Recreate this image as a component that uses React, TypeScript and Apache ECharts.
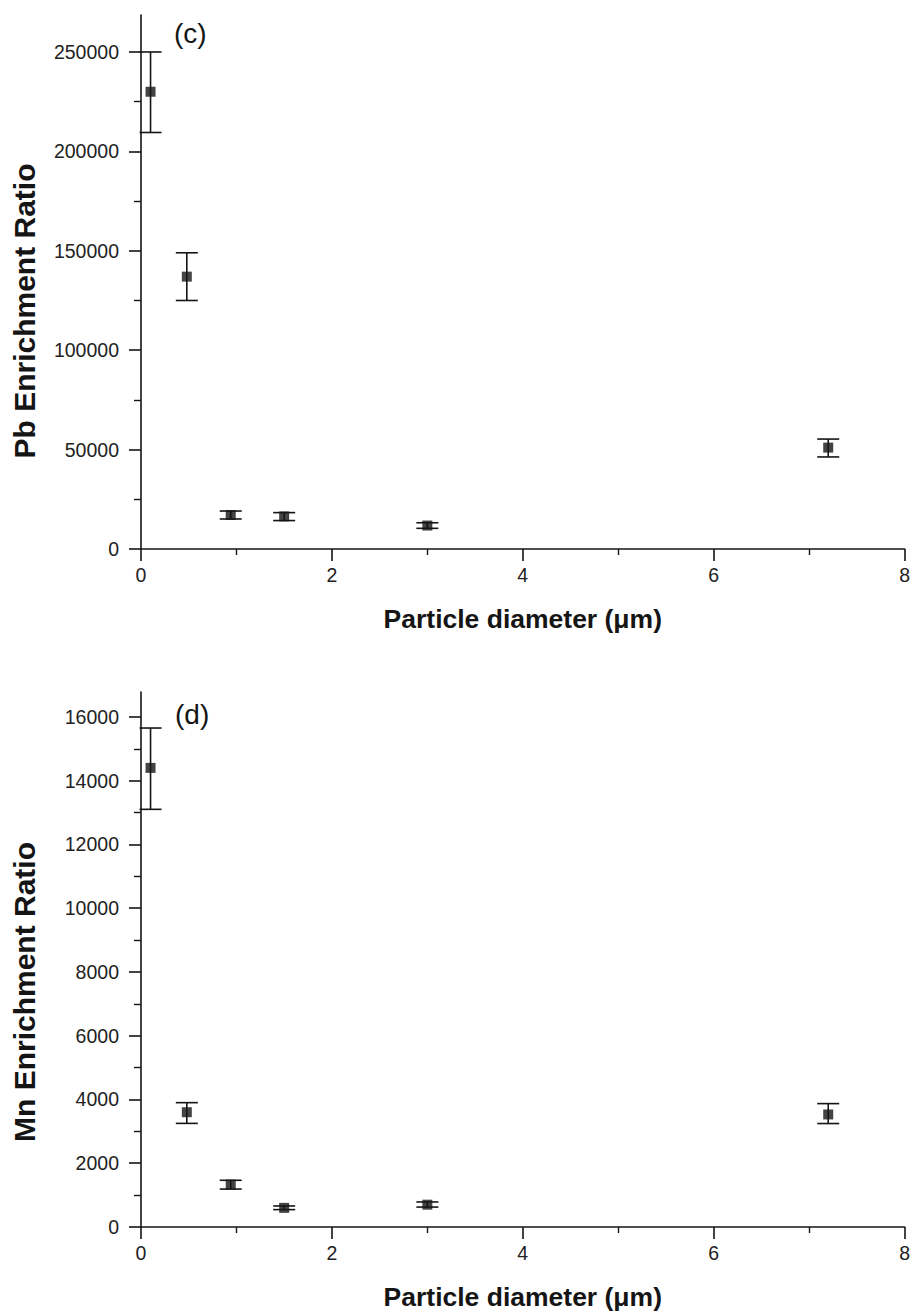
import React, { useEffect, useRef } from "react";
import * as echarts from "echarts";

const diameters = [0.1, 0.48, 0.94, 1.5, 3.0, 7.2];

const pbValues = [230000, 137000, 17100, 16400, 11800, 51000];
const pbLow = [209500, 125000, 15100, 14300, 10400, 46300];
const pbHigh = [250000, 149000, 19100, 18300, 13200, 55300];

const mnValues = [14400, 3600, 1330, 600, 700, 3530];
const mnLow = [13100, 3250, 1190, 545, 625, 3245];
const mnHigh = [15650, 3900, 1465, 660, 785, 3870];

const xTicks = [0, 2, 4, 6, 8];
const pbMajorTicks = [0, 50000, 100000, 150000, 200000, 250000];
const pbMinorTicks = [25000, 75000, 125000, 175000, 225000];
const mnMajorTicks = [0, 2000, 4000, 6000, 8000, 10000, 12000, 14000, 16000];
const mnMinorTicks = [1000, 3000, 5000, 7000, 9000, 11000, 13000, 15000];

const FONT = "'Liberation Sans', Arial, sans-serif";
const INK = "#151515";

function errorSeries(lows: number[], highs: number[], axisIndex: number) {
  return {
    type: "custom",
    xAxisIndex: axisIndex,
    yAxisIndex: axisIndex,
    z: 3,
    data: diameters.map((x, i) => [x, lows[i], highs[i]]),
    encode: { x: 0, y: [1, 2] },
    renderItem: (_params: any, api: any) => {
      const x = api.value(0);
      const top = api.coord([x, api.value(2)]);
      const bot = api.coord([x, api.value(1)]);
      const hw = 11;
      const style = { stroke: INK, lineWidth: 1.6 };
      return {
        type: "group",
        children: [
          { type: "line", shape: { x1: top[0], y1: top[1], x2: bot[0], y2: bot[1] }, style },
          { type: "line", shape: { x1: top[0] - hw, y1: top[1], x2: top[0] + hw, y2: top[1] }, style },
          { type: "line", shape: { x1: bot[0] - hw, y1: bot[1], x2: bot[0] + hw, y2: bot[1] }, style },
        ],
      };
    },
  };
}

function pointSeries(values: number[], axisIndex: number) {
  return {
    type: "scatter",
    xAxisIndex: axisIndex,
    yAxisIndex: axisIndex,
    z: 4,
    symbol: "rect",
    symbolSize: 10,
    itemStyle: { color: INK },
    data: diameters.map((x, i) => [x, values[i]]),
  };
}

function xAxis(gridIndex: number) {
  return {
    type: "value",
    gridIndex,
    min: 0,
    max: 8,
    interval: 2,
    name: "Particle diameter (\u03bcm)",
    nameLocation: "middle",
    nameGap: 56,
    nameTextStyle: { fontFamily: FONT, fontSize: 26.5, fontWeight: "bold", color: INK },
    axisLine: { show: true, onZero: false, lineStyle: { color: INK, width: 1.6 } },
    axisTick: { show: true, length: 12, lineStyle: { color: INK, width: 1.6 }, customValues: xTicks },
    minorTick: { show: true, splitNumber: 2, length: 6, lineStyle: { color: INK, width: 1.4 } },
    axisLabel: { fontFamily: FONT, fontSize: 19.5, color: "#222", margin: 16, customValues: xTicks },
    splitLine: { show: false },
    minorSplitLine: { show: false },
  };
}

function yAxisMajor(gridIndex: number, max: number, ticks: number[]) {
  return {
    type: "value",
    gridIndex,
    position: "left",
    min: 0,
    max,
    axisLine: { show: true, onZero: false, lineStyle: { color: INK, width: 1.6 } },
    axisTick: { show: true, length: 12, lineStyle: { color: INK, width: 1.6 }, customValues: ticks },
    axisLabel: {
      fontFamily: FONT,
      fontSize: 19.5,
      color: "#222",
      margin: 22,
      customValues: ticks,
      formatter: (v: number) => String(v),
    },
    splitLine: { show: false },
  };
}

function yAxisMinor(gridIndex: number, max: number, ticks: number[]) {
  return {
    type: "value",
    gridIndex,
    position: "left",
    offset: 0,
    min: 0,
    max,
    axisLine: { show: false },
    axisTick: { show: true, length: 7, lineStyle: { color: INK, width: 1.4 }, customValues: ticks },
    axisLabel: { show: false },
    splitLine: { show: false },
  };
}

function yTitle(text: string, x: number, y: number) {
  return {
    type: "text",
    x,
    y,
    rotation: Math.PI / 2,
    style: {
      text,
      fontFamily: FONT,
      fontSize: 30,
      fontWeight: "bold",
      fill: INK,
      align: "center",
      verticalAlign: "middle",
    },
  };
}

export default function App() {
  const ref = useRef<HTMLDivElement>(null);

  useEffect(() => {
    if (!ref.current) return;
    const chart = echarts.init(ref.current, null, { renderer: "svg" });
    chart.setOption({
      animation: false,
      backgroundColor: "#ffffff",
      grid: [
        { left: 141, right: 7, top: 15, height: 534 },
        { left: 141, right: 6, top: 692, height: 535 },
      ],
      xAxis: [xAxis(0), xAxis(1)],
      yAxis: [
        yAxisMajor(0, 268600, pbMajorTicks),
        yAxisMajor(1, 16780, mnMajorTicks),
        yAxisMinor(0, 268600, pbMinorTicks),
        yAxisMinor(1, 16780, mnMinorTicks),
      ],
      graphic: [
        yTitle("Pb Enrichment Ratio", 24, 311),
        yTitle("Mn Enrichment Ratio", 24, 992),
        {
          type: "text",
          left: 174,
          top: 19,
          style: { text: "(c)", fontFamily: FONT, fontSize: 28, fill: INK },
        },
        {
          type: "text",
          left: 175,
          top: 700,
          style: { text: "(d)", fontFamily: FONT, fontSize: 28, fill: INK },
        },
      ],
      series: [
        errorSeries(pbLow, pbHigh, 0),
        pointSeries(pbValues, 0),
        errorSeries(mnLow, mnHigh, 1),
        pointSeries(mnValues, 1),
      ],
    });
    return () => chart.dispose();
  }, []);

  return (
    <div
      ref={ref}
      style={{ position: "absolute", left: 0, top: 0, width: 913, height: 1313, background: "#fff" }}
    />
  );
}
